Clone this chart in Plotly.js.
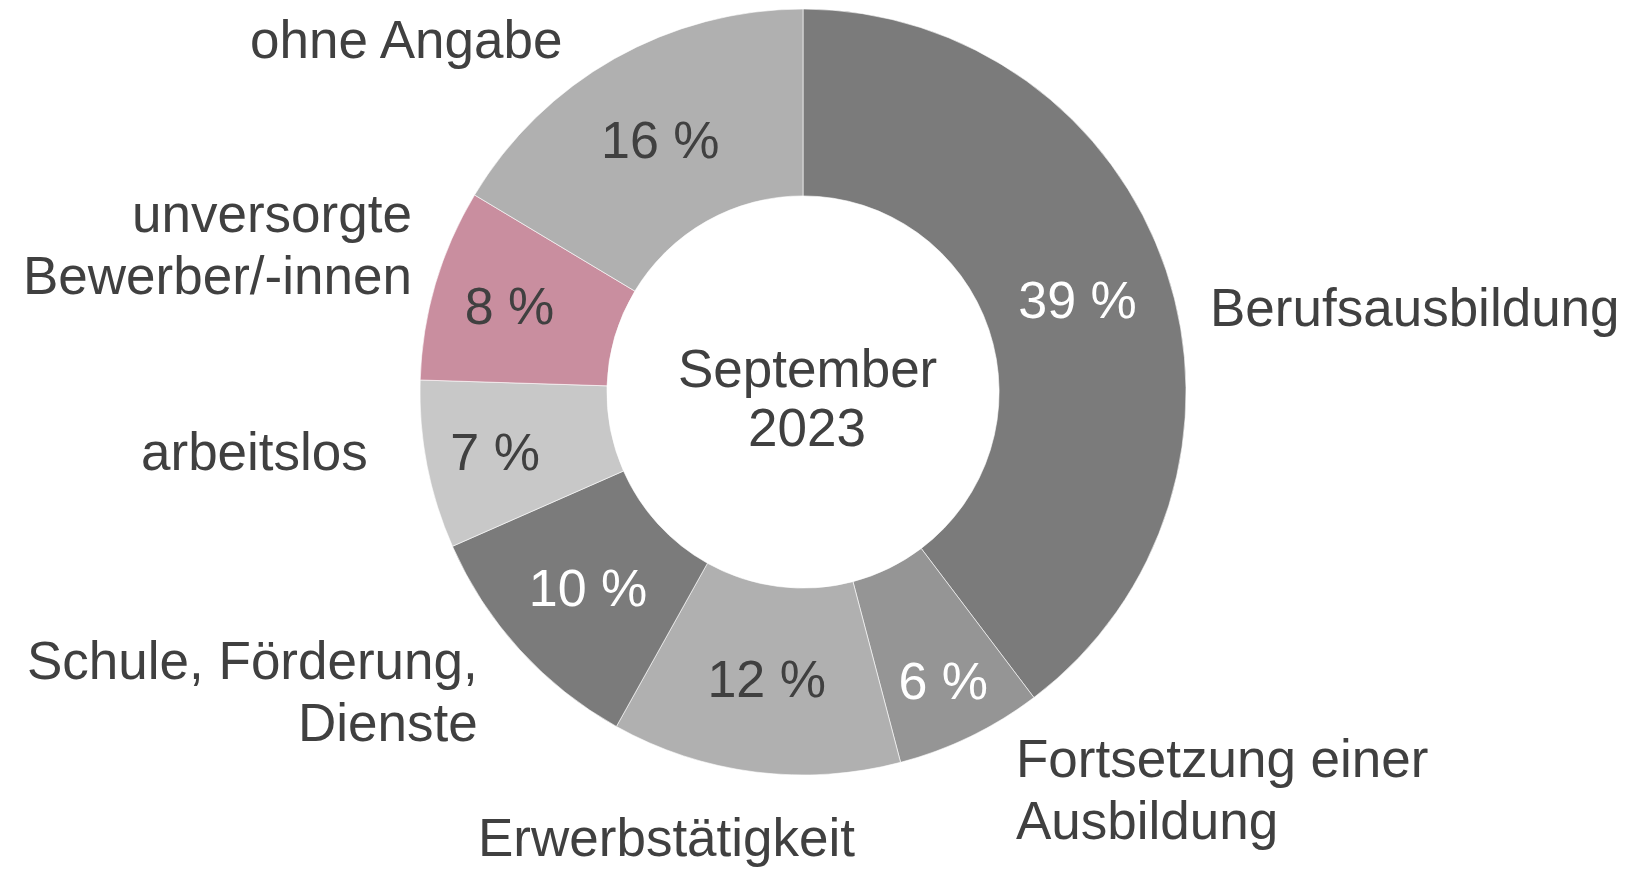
<!DOCTYPE html>
<html>
<head>
<meta charset="utf-8">
<script src="https://cdn.plot.ly/plotly-3.0.1.min.js"></script>
<style>
  html, body { margin: 0; padding: 0; background: #ffffff; }
  #chart { width: 1644px; height: 873px; }
</style>
</head>
<body>
<div id="chart"></div>
<script>
// Categories (clockwise from 12 o'clock)
const categories = [
  "Berufsausbildung",
  "Fortsetzung einer<br>Ausbildung",
  "Erwerbstätigkeit",
  "Schule, Förderung,<br>Dienste",
  "arbeitslos",
  "unversorgte<br>Bewerber/-innen",
  "ohne Angabe"
];
// Shares (%)
const shares = [39.7, 6.2, 12.2, 10.3, 7.1, 8.1, 16.4];
// Printed percentage labels
const pctLabels = ["39 %", "6 %", "12 %", "10 %", "7 %", "8 %", "16 %"];
const sliceColors = ["#7b7b7b", "#959595", "#b0b0b0", "#7b7b7b", "#c8c8c8", "#c98e9f", "#b0b0b0"];
const pctColors = ["#ffffff", "#ffffff", "#404040", "#ffffff", "#404040", "#404040", "#404040"];
const centerText = ["September", "2023"];

const W = 1644, H = 873;
const FONT = "Liberation Sans, Arial, sans-serif";
const TXT = "#404040";

// label placement (pixel positions of outer category labels)
const labelPos = [
  {x: 1208, y: 307, anchor: "left"},
  {x: 1014, y: 789, anchor: "left"},
  {x: 666,  y: 837, anchor: "center"},
  {x: 480,  y: 691, anchor: "right"},
  {x: 370,  y: 451, anchor: "right"},
  {x: 414,  y: 244, anchor: "right"},
  {x: 564,  y: 40,  anchor: "right"}
];
const lineGap = 62;

const annotations = [];
categories.forEach((c, i) => {
  const lines = c.split("<br>");
  const p = labelPos[i];
  lines.forEach((ln, k) => {
    const y = p.y + (k - (lines.length - 1) / 2) * lineGap;
    annotations.push({
      text: ln, xref: "paper", yref: "paper",
      x: p.x / W, y: 1 - y / H,
      xanchor: p.anchor, yanchor: "middle", align: p.anchor,
      showarrow: false,
      font: {family: FONT, size: 53, color: TXT}
    });
  });
});
centerText.forEach((t, k) => {
  const y = 398 + (k - 0.5) * 59;
  annotations.push({
    text: t, xref: "paper", yref: "paper",
    x: 807 / W, y: 1 - y / H,
    xanchor: "center", yanchor: "middle", showarrow: false,
    font: {family: FONT, size: 53, color: TXT}
  });
});

const cx = 803, cy = 392, R = 383;
const trace = {
  type: "pie",
  values: shares,
  labels: categories,
  text: pctLabels,
  textinfo: "text",
  textposition: "inside",
  insidetextorientation: "horizontal",
  insidetextfont: {family: FONT, size: 52, color: pctColors},
  hole: 0.512,
  sort: false,
  direction: "clockwise",
  rotation: 0,
  marker: {colors: sliceColors, line: {color: "#ffffff", width: 0.6}},
  domain: {x: [(cx - R) / W, (cx + R) / W], y: [1 - (cy + R) / H, 1 - (cy - R) / H]},
  hoverinfo: "label+text"
};

const layout = {
  width: W, height: H,
  margin: {l: 0, r: 0, t: 0, b: 0},
  paper_bgcolor: "#ffffff",
  plot_bgcolor: "#ffffff",
  showlegend: false,
  uniformtext: {mode: "show", minsize: 52},
  annotations: annotations
};

Plotly.newPlot("chart", [trace], layout, {displayModeBar: false, staticPlot: true});
</script>
</body>
</html>
